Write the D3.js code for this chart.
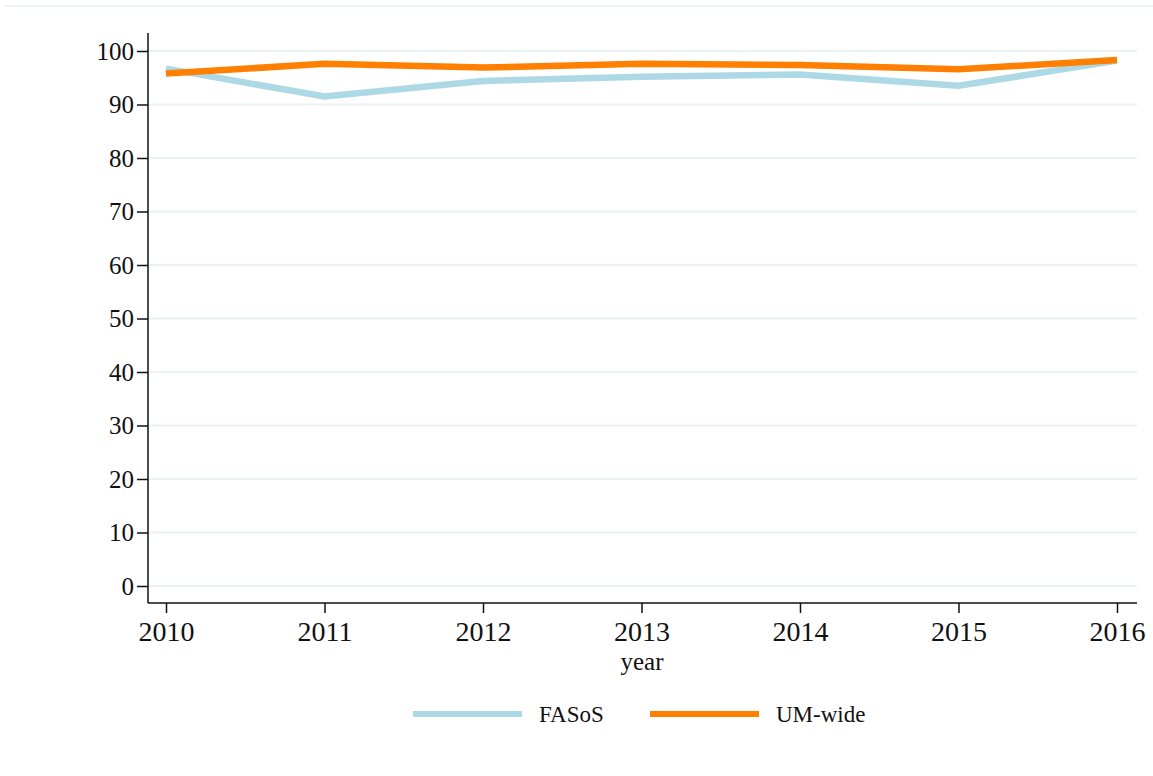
<!DOCTYPE html>
<html lang="en">
<head>
  <meta charset="utf-8">
  <script src="https://d3js.org/d3.v7.min.js"></script>
  <style>
    body { margin: 0; background: #fff; }
    svg text { font-family: "Liberation Serif", "Times New Roman", serif; fill: #111; }
    .grid line { stroke: #eaf2f3; stroke-width: 2; }
    .axis path { display: none; }
    .axis line { stroke: #111; stroke-width: 1.5; }
  </style>
</head>
<body>
  <svg id="chart" width="1153" height="776"></svg>
  <script>
    var years = [2010, 2011, 2012, 2013, 2014, 2015, 2016];
    var fasos = [96.7, 91.5, 94.4, 95.2, 95.6, 93.5, 98.2];
    var umWide = [95.8, 97.6, 96.9, 97.6, 97.4, 96.6, 98.3];
    var yTicks = [0, 10, 20, 30, 40, 50, 60, 70, 80, 90, 100];
    var seriesNames = ["FASoS", "UM-wide"];
    var colors = ["#add8e6", "#ff7f00"];

    var svg = d3.select("#chart");

    var x = d3.scaleLinear().domain([2010, 2016]).range([166, 1117]);
    var y = d3.scaleLinear().domain([0, 100]).range([586, 51]);

    var plotLeft = 148, plotRight = 1137, plotTop = 33, plotBottom = 603;

    // faint outer border of the graph region
    svg.append("line")
      .attr("x1", 4).attr("x2", 1153).attr("y1", 6).attr("y2", 6)
      .attr("stroke", "#eaf2f3").attr("stroke-width", 1.5);

    // grid lines
    svg.append("g").attr("class", "grid")
      .selectAll("line")
      .data(yTicks)
      .enter().append("line")
        .attr("x1", plotLeft).attr("x2", plotRight)
        .attr("y1", function(d) { return y(d); })
        .attr("y2", function(d) { return y(d); });

    // y axis
    var yAxis = svg.append("g").attr("class", "axis")
      .attr("transform", "translate(" + plotLeft + ",0)")
      .call(d3.axisLeft(y).tickValues(yTicks).tickSize(11).tickPadding(3).tickSizeOuter(0));
    yAxis.selectAll("text").style("font-size", "25px");
    svg.append("line")
      .attr("x1", plotLeft).attr("x2", plotLeft).attr("y1", plotTop).attr("y2", plotBottom)
      .attr("stroke", "#111").attr("stroke-width", 1.5);

    // x axis
    var xAxis = svg.append("g").attr("class", "axis")
      .attr("transform", "translate(0," + plotBottom + ")")
      .call(d3.axisBottom(x).tickValues(years).tickFormat(d3.format("d")).tickSize(10).tickPadding(8).tickSizeOuter(0));
    xAxis.selectAll("text").style("font-size", "28px");
    svg.append("line")
      .attr("x1", plotLeft).attr("x2", plotRight).attr("y1", plotBottom).attr("y2", plotBottom)
      .attr("stroke", "#111").attr("stroke-width", 1.5);

    svg.append("text")
      .attr("x", 642).attr("y", 670)
      .attr("text-anchor", "middle")
      .style("font-size", "25px")
      .text("year");

    // lines
    var line = d3.line()
      .x(function(d, i) { return x(years[i]); })
      .y(function(d) { return y(d); });

    [fasos, umWide].forEach(function(s, i) {
      svg.append("path")
        .datum(s)
        .attr("fill", "none")
        .attr("stroke", colors[i])
        .attr("stroke-width", 6.5)
        .attr("d", line);
    });

    // legend
    var legendX = [413, 650];
    var legend = svg.append("g");
    seriesNames.forEach(function(name, i) {
      legend.append("line")
        .attr("x1", legendX[i]).attr("x2", legendX[i] + 109)
        .attr("y1", 714).attr("y2", 714)
        .attr("stroke", colors[i]).attr("stroke-width", 6);
      legend.append("text")
        .attr("x", legendX[i] + 126).attr("y", 722)
        .style("font-size", "23px")
        .text(name);
    });
  </script>
</body>
</html>
